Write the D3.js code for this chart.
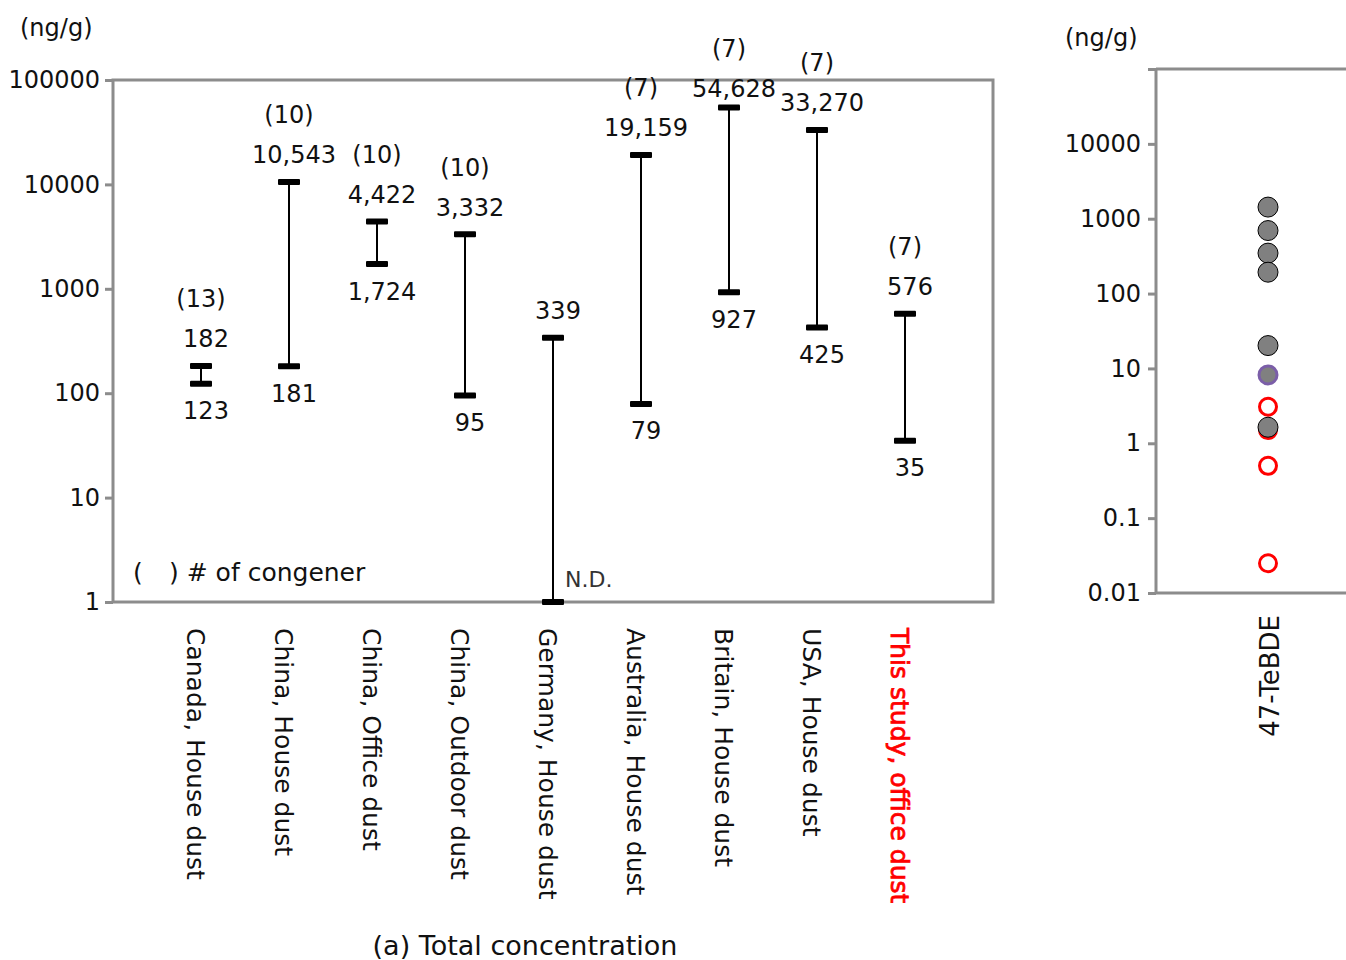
<!DOCTYPE html>
<html>
<head>
<meta charset="utf-8">
<script src="https://cdn.jsdelivr.net/npm/d3@7"></script>
<style>
  body { margin: 0; background: #fff; }
  svg text { font-family: "DejaVu Sans", sans-serif; fill: #111; }
  .frame { fill: none; stroke: #8c8c8c; stroke-width: 3; }
  .axis path, .axis line { stroke: #8c8c8c; stroke-width: 3; }
  .axis text { font-size: 24px; fill: #111; font-family: "DejaVu Sans", sans-serif; }
  .whisker { stroke: #000; stroke-width: 2; }
  .cap { fill: #000; }
</style>
</head>
<body>
<div id="chart"></div>
<script>
// sites compared (x categories)
const sites = [
  'Canada, House dust',
  'China, House dust',
  'China, Office dust',
  'China, Outdoor dust',
  'Germany, House dust',
  'Australia, House dust',
  'Britain, House dust',
  'USA, House dust',
  'This study, office dust',
];
// total concentration range, ng/g  (N.D. drawn at 1)
const maxConc = [182, 10543, 4422, 3332, 339, 19159, 54628, 33270, 576];
const minConc = [123, 181, 1724, 95, 1, 79, 927, 425, 35];
const minText = ['123', '181', '1,724', '95', 'N.D.', '79', '927', '425', '35'];
const maxText = ['182', '10,543', '4,422', '3,332', '339', '19,159', '54,628', '33,270', '576'];
const congeners = [13, 10, 10, 10, null, 7, 7, 7, 7];

const leftTicks = [1, 10, 100, 1000, 10000, 100000];
const rightTicks = [0.01, 0.1, 1, 10, 100, 1000, 10000, 100000];

// 47-TeBDE, ng/g
const teOther = [1430, 695, 347, 193, 20.2, 1.64];
const teMixed = [8.2];
const teThisStudy = [3.08, 1.5, 0.50, 0.025];

const W = 1346;
const H = 960;

const svg = d3.select('#chart')
  .append('svg')
  .attr('width', W)
  .attr('height', H);

// ---------- left panel ----------
const left = { x0: 113, x1: 993, y0: 80, y1: 602 };

const x = d3.scalePoint()
  .domain(sites)
  .range([left.x0, left.x1])
  .padding(1);

const y = d3.scaleLog()
  .domain([1, 100000])
  .range([left.y1, left.y0]);

const yAxis = d3.axisLeft(y)
  .tickValues(leftTicks)
  .tickFormat(d3.format('d'))
  .tickSize(8)
  .tickPadding(5);

svg.append('rect')
  .attr('class', 'frame')
  .attr('x', left.x0)
  .attr('y', left.y0)
  .attr('width', left.x1 - left.x0)
  .attr('height', left.y1 - left.y0);

svg.append('g')
  .attr('class', 'axis')
  .attr('transform', `translate(${left.x0},0)`)
  .call(yAxis)
  .call(g => g.select('.domain').remove());

svg.append('text')
  .attr('x', 20)
  .attr('y', 36)
  .style('font-size', '24px')
  .text('(ng/g)');

const rows = sites.map((s, i) => ({
  site: s, hi: maxConc[i], lo: minConc[i], hiT: maxText[i], loT: minText[i], n: congeners[i],
}));

const bars = svg.append('g').selectAll('g').data(rows).enter()
  .append('g');

bars.append('line')
  .attr('class', 'whisker')
  .attr('x1', d => x(d.site))
  .attr('x2', d => x(d.site))
  .attr('y1', d => y(d.hi))
  .attr('y2', d => y(d.lo));

bars.selectAll('rect.cap')
  .data(d => [d.hi, d.lo].map(v => ({ site: d.site, v })))
  .enter()
  .append('rect')
  .attr('class', 'cap')
  .attr('x', d => x(d.site) - 11)
  .attr('y', d => y(d.v) - 3)
  .attr('width', 22)
  .attr('height', 6)
  .attr('rx', 1);

// labels near the top edge sit a little closer to their cap
const hiGap = d => (y(d.hi) < 115 ? 19 : 27);

bars.append('text')
  .attr('x', d => x(d.site) + 5)
  .attr('y', d => y(d.hi) - hiGap(d))
  .attr('dy', '0.35em')
  .attr('text-anchor', 'middle')
  .style('font-size', '24px')
  .text(d => d.hiT);

bars.filter(d => d.loT !== 'N.D.').append('text')
  .attr('x', d => x(d.site) + 5)
  .attr('y', d => y(d.lo) + 27)
  .attr('dy', '0.35em')
  .attr('text-anchor', 'middle')
  .style('font-size', '24px')
  .text(d => d.loT);

bars.filter(d => d.loT === 'N.D.').append('text')
  .attr('x', d => x(d.site) + 12)
  .attr('y', d => y(d.lo) - 23)
  .attr('dy', '0.35em')
  .style('font-size', '22px')
  .style('fill', '#333')
  .text(d => d.loT);

bars.filter(d => d.n !== null).append('text')
  .attr('x', d => x(d.site))
  .attr('y', d => y(d.hi) - hiGap(d) - 40)
  .attr('dy', '0.35em')
  .attr('text-anchor', 'middle')
  .style('font-size', '24px')
  .text(d => `(${d.n})`);

svg.append('text')
  .attr('x', 133)
  .attr('y', 572)
  .attr('dy', '0.35em')
  .style('font-size', '25px')
  .text('(');

svg.append('text')
  .attr('x', 169)
  .attr('y', 572)
  .attr('dy', '0.35em')
  .style('font-size', '25px')
  .text(') # of congener');

svg.append('g').selectAll('text').data(sites).enter()
  .append('text')
  .attr('transform', d => `translate(${x(d) - 5},628) rotate(90)`)
  .attr('dy', '0.35em')
  .style('font-size', '25px')
  .style('fill', d => (d.startsWith('This study') ? '#ff0000' : '#111'))
  .style('stroke', d => (d.startsWith('This study') ? '#ff0000' : 'none'))
  .style('stroke-width', 0.8)
  .text(d => d);

svg.append('text')
  .attr('x', 525)
  .attr('y', 946)
  .attr('dy', '0.35em')
  .attr('text-anchor', 'middle')
  .style('font-size', '27px')
  .text('(a) Total concentration');

// ---------- right panel ----------
const right = { x0: 1156, x1: 1346, y0: 69, y1: 593 };

const y2 = d3.scaleLog()
  .domain([0.01, 100000])
  .range([right.y1, right.y0]);

const x2 = d3.scalePoint()
  .domain(['47-TeBDE'])
  .range([right.x0, 1380])
  .padding(0.5);

svg.append('g')
  .attr('class', 'axis')
  .attr('transform', `translate(${right.x0},0)`)
  .call(d3.axisLeft(y2)
    .tickValues(rightTicks)
    .tickFormat(d => (d >= 100000 ? '' : (d < 1 ? String(d) : d3.format('d')(d))))
    .tickSize(8)
    .tickPadding(7))
  .call(g => g.select('.domain').remove());

svg.append('g')
  .attr('class', 'axis')
  .selectAll('line')
  .data([[right.x0, right.y0, right.x0, right.y1], [right.x0, right.y0, right.x1, right.y0], [right.x0, right.y1, right.x1, right.y1]])
  .enter()
  .append('line')
  .attr('x1', d => d[0])
  .attr('y1', d => d[1])
  .attr('x2', d => d[2])
  .attr('y2', d => d[3]);

svg.append('text')
  .attr('x', 1065)
  .attr('y', 46)
  .style('font-size', '24px')
  .text('(ng/g)');

const cx = x2('47-TeBDE');

svg.append('g').selectAll('circle').data(teThisStudy).enter()
  .append('circle')
  .attr('cx', cx)
  .attr('cy', d => y2(d))
  .attr('r', 8.5)
  .attr('fill', 'none')
  .attr('stroke', '#ff0000')
  .attr('stroke-width', 3);

svg.append('g').selectAll('circle').data(teOther).enter()
  .append('circle')
  .attr('cx', cx)
  .attr('cy', d => y2(d))
  .attr('r', 10)
  .attr('fill', '#808080')
  .attr('stroke', '#000')
  .attr('stroke-width', 1);

svg.append('g').selectAll('circle').data(teMixed).enter()
  .append('circle')
  .attr('cx', cx)
  .attr('cy', d => y2(d))
  .attr('r', 9)
  .attr('fill', '#808080')
  .attr('stroke', '#7b5ea8')
  .attr('stroke-width', 3);

svg.append('text')
  .attr('transform', `translate(${cx + 2},615) rotate(-90)`)
  .attr('dy', '0.35em')
  .attr('text-anchor', 'end')
  .style('font-size', '26px')
  .text('47-TeBDE');
</script>
</body>
</html>
